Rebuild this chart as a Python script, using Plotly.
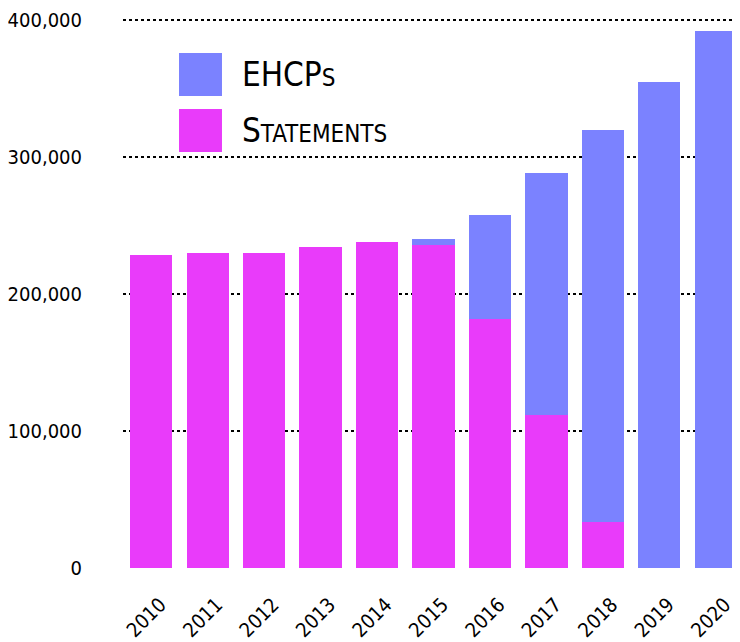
import plotly.graph_objects as go

# Data (number of pupils, England)
years = ["2010", "2011", "2012", "2013", "2014", "2015",
         "2016", "2017", "2018", "2019", "2020"]
statements = [228500, 229900, 229900, 234300, 238000, 235800,
              181800, 111700, 33800, 0, 0]
ehcps = [0, 0, 0, 0, 0, 4300,
         75900, 176600, 285900, 354700, 392000]

ytick_vals = [0, 100000, 200000, 300000, 400000]
ytick_text = ["0", "100,000", "200,000", "300,000", "400,000"]

EHCP_COLOR = "#7b82ff"
STATEMENT_COLOR = "#e93bfa"
FONT = "Humor Sans, Liberation Sans Narrow, DejaVu Sans Condensed, sans-serif"

fig = go.Figure()
fig.add_trace(go.Bar(x=years, y=statements, name="Statements",
                     marker=dict(color=STATEMENT_COLOR, line=dict(width=0)),
                     showlegend=False))
fig.add_trace(go.Bar(x=years, y=ehcps, name="EHCPs",
                     marker=dict(color=EHCP_COLOR, line=dict(width=0)),
                     showlegend=False))

# the page body adds an 8px offset, so margins are shifted to compensate
fig.update_layout(
    width=740,
    height=642,
    barmode="stack",
    bargap=0.25,
    plot_bgcolor="white",
    paper_bgcolor="white",
    font=dict(family=FONT, size=20, color="black"),
    margin=dict(l=115, r=4, t=9, b=82, pad=0),
)

fig.update_xaxes(
    tickangle=-45,
    showgrid=False,
    showline=False,
    ticks="",
    tickfont=dict(size=20),
    ticklabelstandoff=20,
    ticklabelshift=9,
    automargin=False,
)
fig.update_yaxes(
    range=[0, 402000],
    tickmode="array",
    tickvals=ytick_vals,
    ticktext=ytick_text,
    showgrid=True,
    gridcolor="black",
    griddash="dot",
    gridwidth=2,
    zeroline=False,
    showline=False,
    ticks="",
    ticklabelstandoff=40,
    ticklabeloverflow="allow",
    tickfont=dict(size=20),
    automargin=False,
)

# Hand-made legend with large square swatches
legend_items = [("EHCP<span style='font-size:24px'>S</span>", EHCP_COLOR, 0.9347, 0.8566),
                ("S<span style='font-size:24px'>TATEMENTS</span>", STATEMENT_COLOR, 0.8330, 0.7550)]
for label, color, y_top, y_bot in legend_items:
    fig.add_shape(type="rect", xref="paper", yref="paper",
                  x0=0.0902, x1=0.1594, y0=y_bot, y1=y_top,
                  fillcolor=color, line=dict(width=0), layer="above")
    fig.add_annotation(xref="paper", yref="paper", x=0.188, y=(y_top + y_bot) / 2,
                       text=label, showarrow=False, xanchor="left", yanchor="middle",
                       font=dict(size=33, family=FONT, color="black"))

fig.write_html("out.html")
